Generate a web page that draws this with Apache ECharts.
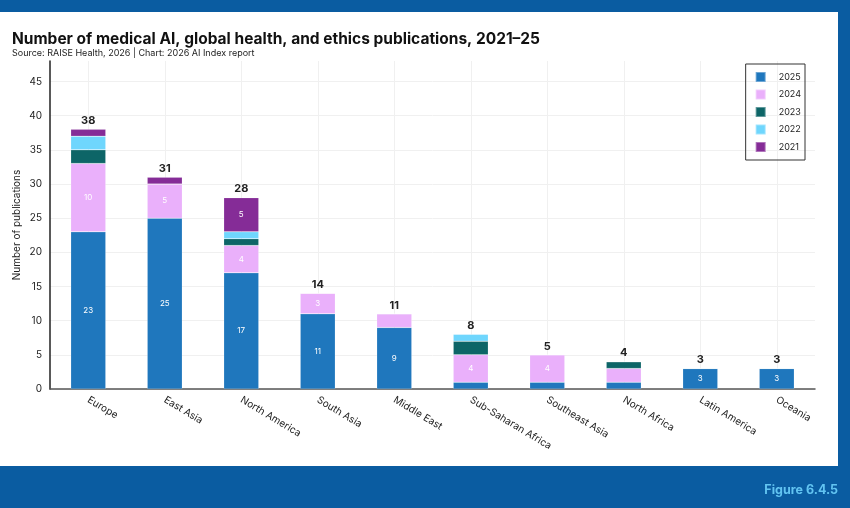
<!DOCTYPE html>
<html>
<head>
<meta charset="utf-8">
<script src="https://cdn.jsdelivr.net/npm/echarts@6/dist/echarts.min.js"></script>
<style>
  html, body { margin: 0; padding: 0; }
  #wrap { position: relative; width: 850px; height: 508px; background: #0a5ca1; overflow: hidden; }
  #panel { position: absolute; left: 0; top: 12px; width: 838px; height: 454px; background: #fff; }
  #chart { position: absolute; left: 0; top: 0; width: 850px; height: 508px; }
</style>
</head>
<body>
<div id="wrap">
  <div id="panel"></div>
  <div id="chart"></div>
</div>
<script>
  // regions on the x axis
  const regions = ['Europe', 'East Asia', 'North America', 'South Asia', 'Middle East',
    'Sub-Saharan Africa', 'Southeast Asia', 'North Africa', 'Latin America', 'Oceania'];

  // publications per year, stacked bottom to top
  const y2025 = [23, 25, 17, 11, 9, 1, 1, 1, 3, 3];
  const y2024 = [10, 5, 4, 3, 2, 4, 4, 2, 0, 0];
  const y2023 = [2, 0, 1, 0, 0, 2, 0, 1, 0, 0];
  const y2022 = [2, 0, 1, 0, 0, 1, 0, 0, 0, 0];
  const y2021 = [1, 1, 5, 0, 0, 0, 0, 0, 0, 0];

  const years = ['2025', '2024', '2023', '2022', '2021'];
  const colors = ['#1f77bd', '#eab0fb', '#0d6567', '#6fd6fd', '#852c97'];
  const values = [y2025, y2024, y2023, y2022, y2021];

  const totals = regions.map((_, i) => values.reduce((s, arr) => s + arr[i], 0));

  const chart = echarts.init(document.getElementById('chart'));

  const font = 'Inter, "Noto Sans", sans-serif';

  const series = years.map((yr, k) => ({
    name: yr,
    type: 'bar',
    stack: 'all',
    barWidth: 35,
    data: values[k],
    itemStyle: { color: colors[k], borderColor: 'rgba(255,255,255,0.35)', borderWidth: 0.5 },
    label: {
      show: true,
      position: 'inside',
      color: '#fff',
      fontSize: 8,
      fontFamily: font,
      formatter: p => (p.value >= 3 ? p.value : ''),
    },
  }));

  // invisible segment carrying the totals above each bar
  series.push({
    name: 'total',
    type: 'bar',
    stack: 'all',
    barWidth: 35,
    data: regions.map(() => 0),
    itemStyle: { color: 'transparent' },
    label: {
      show: true,
      position: 'top',
      distance: 3,
      color: '#222',
      fontSize: 11,
      fontWeight: 'bold',
      fontFamily: font,
      formatter: p => totals[p.dataIndex],
    },
  });

  chart.setOption({
    animation: false,
    title: [
      {
        text: 'Number of medical AI, global health, and ethics publications, 2021–25',
        subtext: 'Source: RAISE Health, 2026 | Chart: 2026 AI Index report',
        left: 7,
        top: 26,
        itemGap: 2,
        textStyle: { fontSize: 15.5, fontWeight: 'bold', color: '#111', fontFamily: font },
        subtextStyle: { fontSize: 9, color: '#222', fontFamily: font },
      },
      {
        text: 'Figure 6.4.5',
        right: 7,
        top: 479,
        textStyle: { fontSize: 12.5, fontWeight: 'bold', color: '#62c4f1', fontFamily: font },
      },
    ],
    legend: {
      data: years,
      orient: 'vertical',
      right: 45,
      top: 64,
      itemWidth: 10,
      itemHeight: 10,
      itemGap: 5.5,
      padding: [7, 4, 7, 9],
      borderColor: '#333',
      borderWidth: 1,
      borderRadius: 0,
      icon: 'rect',
      textStyle: { fontSize: 9, color: '#222', fontFamily: font, padding: [0, 0, 0, 8] },
    },
    grid: { left: 50, right: 35, top: 61, bottom: 119 },
    xAxis: {
      type: 'category',
      data: regions,
      axisLine: { lineStyle: { color: '#555', width: 1.5 } },
      axisTick: { show: false, alignWithLabel: true },
      splitLine: { show: true, interval: 0, alignWithLabel: true, lineStyle: { color: '#f0f0f0' } },
      axisLabel: {
        interval: 0,
        rotate: -31,
        color: '#222',
        fontSize: 10,
        fontFamily: font,
        margin: 10,
      },
    },
    yAxis: {
      type: 'value',
      min: 0,
      max: 48,
      interval: 5,
      name: 'Number of publications',
      nameLocation: 'middle',
      nameGap: 28,
      nameMoveOverlap: false,
      nameTextStyle: { fontSize: 10, color: '#222', fontFamily: font },
      axisLine: { show: true, lineStyle: { color: '#222', width: 1.5 } },
      axisTick: { show: false },
      splitLine: { showMaxLine: false, lineStyle: { color: '#f0f0f0' } },
      axisLabel: { showMaxLabel: false, color: '#222', fontSize: 10, fontFamily: font },
    },
    series,
  });
</script>
</body>
</html>
